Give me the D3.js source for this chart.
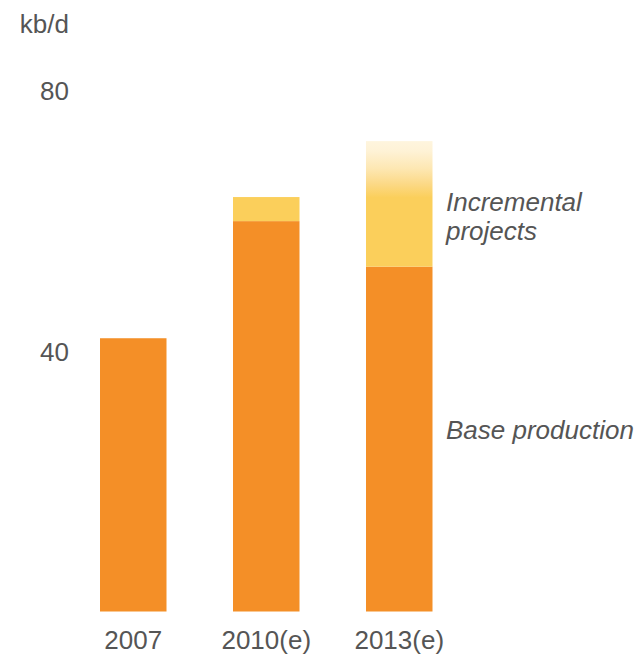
<!DOCTYPE html>
<html>
<head>
<meta charset="utf-8">
<script src="https://cdn.jsdelivr.net/npm/d3@7"></script>
<style>
  html, body { margin: 0; padding: 0; background: #fff; }
  svg { display: block; }
  text { font-family: "Liberation Sans", Arial, sans-serif; fill: #555; }
</style>
</head>
<body>
<svg id="chart" width="640" height="654"></svg>
<script>
const categories = ["2007", "2010(e)", "2013(e)"];
const baseProduction = [42, 60, 53];
const incrementalProjects = [0, 3.7, 19.3];
const yTicks = [40, 80];
const unitLabel = "kb/d";
const seriesLabels = [["Incremental", "projects"], ["Base production"]];

const svg = d3.select("#chart");

const x = d3.scaleBand().domain(categories).range([66.75, 465.75])
  .paddingInner(0.5).paddingOuter(0.25);
const y = d3.scaleLinear().domain([0, 80]).range([611.5, 91]);

const defs = svg.append("defs");
const grad = defs.append("linearGradient").attr("id", "fade")
  .attr("x1", 0).attr("y1", 0).attr("x2", 0).attr("y2", 1);
grad.append("stop").attr("offset", "0%").attr("stop-color", "#FEF5DE");
grad.append("stop").attr("offset", "8%").attr("stop-color", "#FEF2D6");
grad.append("stop").attr("offset", "22%").attr("stop-color", "#FDE7B2");
grad.append("stop").attr("offset", "34%").attr("stop-color", "#FCD987");
grad.append("stop").attr("offset", "45%").attr("stop-color", "#FBCF5B");
grad.append("stop").attr("offset", "100%").attr("stop-color", "#FBCF5B");

svg.append("g").selectAll("rect").data(categories).join("rect")
  .attr("x", d => x(d))
  .attr("width", x.bandwidth())
  .attr("y", (d, i) => y(baseProduction[i]))
  .attr("height", (d, i) => y(0) - y(baseProduction[i]))
  .attr("fill", "#F48F27");

svg.append("g").selectAll("rect").data(categories).join("rect")
  .attr("x", d => x(d))
  .attr("width", x.bandwidth())
  .attr("y", (d, i) => y(baseProduction[i] + incrementalProjects[i]))
  .attr("height", (d, i) => y(baseProduction[i]) - y(baseProduction[i] + incrementalProjects[i]))
  .attr("fill", (d, i) => i === 2 ? "url(#fade)" : "#FBCF5B");

svg.append("g").selectAll("text").data(yTicks).join("text")
  .attr("x", 69)
  .attr("y", d => y(d))
  .attr("dy", "0.36em")
  .attr("text-anchor", "end")
  .style("font-size", "26px")
  .text(d => d);

svg.append("text")
  .attr("x", 69).attr("y", 33)
  .attr("text-anchor", "end")
  .style("font-size", "26px")
  .text(unitLabel);

svg.append("g").selectAll("text").data(categories).join("text")
  .attr("x", d => x(d) + x.bandwidth() / 2)
  .attr("y", 649)
  .attr("text-anchor", "middle")
  .style("font-size", "26px")
  .text(d => d);

const lab = svg.append("g").style("font-style", "italic").style("font-size", "26px");
lab.append("text").attr("x", 446).attr("y", 211).text(seriesLabels[0][0]);
lab.append("text").attr("x", 446).attr("y", 240).text(seriesLabels[0][1]);
lab.append("text").attr("x", 446).attr("y", 439).text(seriesLabels[1][0]);
</script>
</body>
</html>
